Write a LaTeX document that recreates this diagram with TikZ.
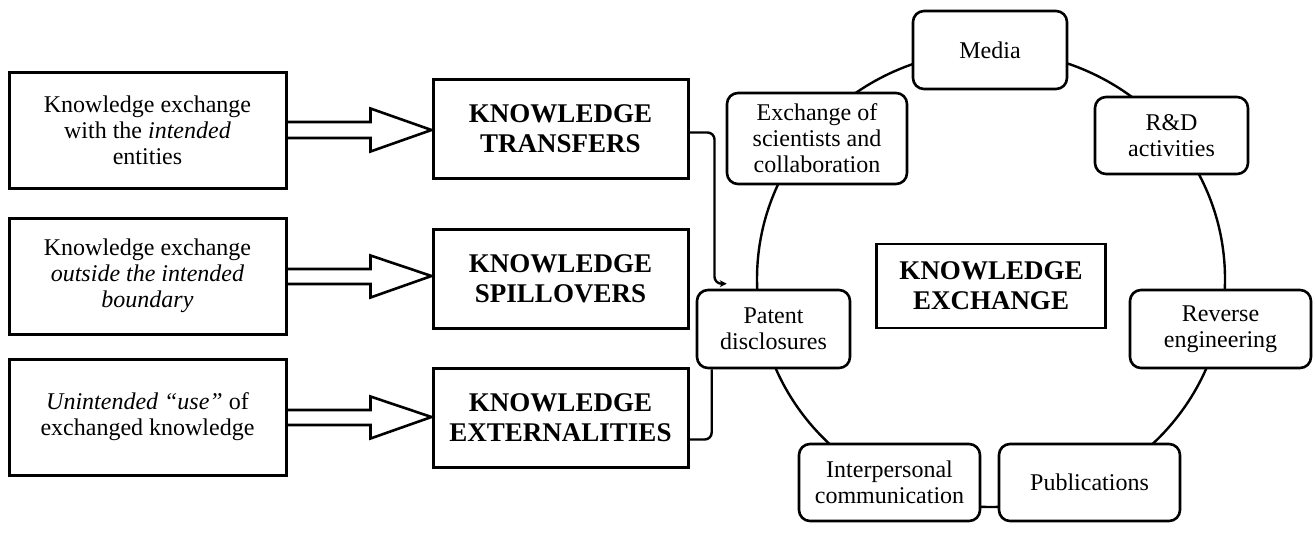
\documentclass[tikz,border=0pt]{standalone}
\usepackage{fontspec}
\setmainfont{Liberation Serif}
\usepackage{xcolor}
\usepackage{tikz}
\usetikzlibrary{calc,arrows.meta}
\definecolor{ink}{HTML}{000000}
\definecolor{paper}{HTML}{FFFFFF}
\tikzset{
  txt/.style={font=\fontsize{24}{26}\selectfont, align=center, text=ink},
  boldtxt/.style={font=\fontsize{27}{30}\selectfont\bfseries, align=center, text=ink},
  srcbox/.style={txt, draw=ink, line width=3pt, fill=paper, inner sep=0pt,
    minimum width=277pt, minimum height=116pt},
  kbox/.style={boldtxt, draw=ink, line width=3pt, fill=paper, inner sep=0pt,
    minimum width=255pt, minimum height=99pt},
  chan/.style={txt, draw=ink, line width=2.6pt, rounded corners=11pt, fill=paper,
    inner sep=0pt, minimum width=#1, minimum height=78pt},
  ring/.style={draw=ink, line width=2.4pt},
  hollow/.style={draw=ink, line width=2.6pt, line join=miter},
  link/.style={draw=ink, line width=2.4pt, rounded corners=7pt},
}
\begin{document}
\begin{tikzpicture}[x=1pt,y=-1pt]
  \useasboundingbox (0,0) rectangle (1314,536);
  \coordinate (hub) at (991,279);

  % ring of channels
  \draw[ring] (hub) ellipse [x radius=234pt, y radius=228pt];

  % left column
  \node[srcbox] (L1) at (147.5,130) {Knowledge exchange\\with the \textit{intended}\\entities};
  \node[srcbox] (L2) at (147.5,276) {Knowledge exchange\\\textit{outside the intended}\\\textit{boundary}};
  \node[srcbox] (L3) at (147.5,417) {\textit{Unintended “use”} of\\exchanged knowledge};

  % middle column
  \node[kbox] (K1) at (560.5,128.5) {KNOWLEDGE\\TRANSFERS};
  \node[kbox] (K2) at (560.5,278.5) {KNOWLEDGE\\SPILLOVERS};
  \node[kbox] (K3) at (560.5,417.5) {KNOWLEDGE\\EXTERNALITIES};

  % channels
  \node[chan=154pt] (Media) at (990,50) {Media};
  \node[chan=180pt, minimum height=91pt] (Exch) at (817,138.5) {Exchange of\\scientists and\\collaboration};
  \node[chan=153pt, minimum height=77pt] (RD) at (1171.5,135.5) {R\&D\\activities};
  \node[chan=153pt] (Patent) at (773.5,329) {Patent\\disclosures};
  \node[chan=181pt] (Rev) at (1220.5,329) {Reverse\\engineering};
  \node[chan=181pt, minimum height=77pt] (Inter) at (889.5,482.5) {Interpersonal\\communication};
  \node[chan=181pt, minimum height=77pt] (Pub) at (1089.5,482.5) {Publications};

  \node[boldtxt, draw=ink, line width=2.8pt, fill=paper, inner sep=0pt,
    minimum width=229pt, minimum height=84pt] (KE) at (hub |- 0,286) {KNOWLEDGE\\EXCHANGE};

  % hollow arrows
  \draw[hollow] ($(L1.east)+(0,-8)$) -- ++(83,0) -- ++(0,-13.5) -- (K1.west |- L1.east)
    -- ($(L1.east)+(83,21.5)$) -- ++(0,-13.5) -- ++(-83,0);
  \draw[hollow] ($(L2.east)+(0,-7)$) -- ++(83,0) -- ++(0,-13.5) -- (K2.west |- L2.east)
    -- ($(L2.east)+(83,21.5)$) -- ++(0,-13.5) -- ++(-83,0);
  \draw[hollow] ($(L3.east)+(0,-7)$) -- ++(83,0) -- ++(0,-13.5) -- (K3.west |- L3.east)
    -- ($(L3.east)+(83,21.5)$) -- ++(0,-13.5) -- ++(-83,0);

  % brackets to patents
  \draw[link,-{Stealth[length=7pt,width=7pt]}] ($(K1.east)+(0,4)$) -- ++(25,0)
    |- ($(Patent.north west)+(31,-5)$);
  \draw[link] ($(K3.east)+(0,22)$) -| ($(Patent.south west)+(16,0)$);
\end{tikzpicture}
\end{document}
